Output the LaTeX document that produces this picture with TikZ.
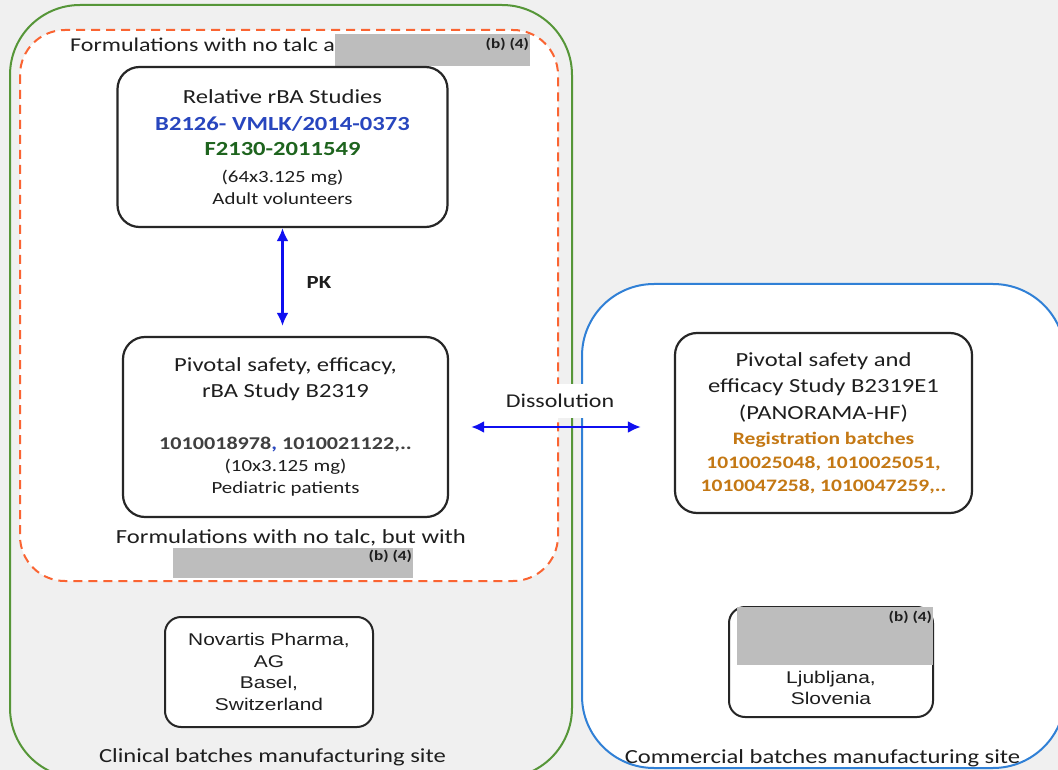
\documentclass[tikz,border=0pt]{standalone}
\usepackage{fontspec}
\setmainfont[FakeStretch=1.23]{Carlito}
\newfontfamily\arialfont[FakeStretch=1.23]{Liberation Sans}
\usetikzlibrary{arrows.meta}
\definecolor{bggray}{RGB}{240,240,240}
\definecolor{sitegreen}{RGB}{86,150,56}
\definecolor{siteblue}{RGB}{48,128,214}
\definecolor{dashorange}{RGB}{250,100,50}
\definecolor{redgray}{RGB}{189,189,189}
\definecolor{tdark}{RGB}{30,30,30}
\definecolor{tblue}{RGB}{40,70,190}
\definecolor{tgreen}{RGB}{30,100,30}
\definecolor{tgray}{RGB}{64,64,64}
\definecolor{torange}{RGB}{196,120,20}
\definecolor{arrblue}{RGB}{15,15,240}
\tikzset{
  studybox/.style={draw=black!85, line width=2.2pt, rounded corners=22pt, fill=white,
    align=center, inner sep=0pt, text=tdark},
  sitebox/.style={draw=black!85, line width=2pt, rounded corners=16pt, fill=white,
    align=center, inner sep=0pt, text=tdark},
  redact/.style={fill=redgray, inner sep=0pt},
  bfour/.style={font=\fontsize{14}{16}\selectfont\bfseries, text=tdark, inner sep=0pt},
  plain/.style={text=tdark, inner sep=0pt},
  arr/.style={draw=arrblue, line width=2.8pt, {Latex[length=13pt,width=12pt]}-{Latex[length=13pt,width=12pt]}},
}
\begin{document}
\begin{tikzpicture}[x=1pt,y=-1pt]
\useasboundingbox (0,0) rectangle (1058,770);
\fill[bggray] (0,0) rectangle (1058,770);
\begin{scope}
\clip (0,0) rectangle (1058,770);
\draw[sitegreen, line width=2pt, rounded corners=70pt] (10,5) rectangle (572,778);
\draw[siteblue, fill=white, line width=2pt, rounded corners=72pt] (582,284) rectangle (1065,768);
\end{scope}
\draw[dashorange, fill=white, line width=2pt, dash pattern=on 9pt off 6pt, rounded corners=45pt] (20,30) rectangle (558,581);

% top formulation label
\node[plain, anchor=base west, font=\fontsize{19.5}{22}\selectfont] (formtop) at (70,52) {Formulations with no talc a};
\node[redact, minimum width=195pt, minimum height=32pt] (r1) at (432.5,50) {};
\node[bfour, anchor=north east] (r1t) at ([xshift=-1pt,yshift=-4pt]r1.north east) {(b) (4)};

% study boxes
\node[studybox, minimum width=330pt, minimum height=160pt, font=\fontsize{20}{26.5}\selectfont] (b1) at (282.5,147)
 {Relative rBA Studies\\[0.5pt]
  {\bfseries\color{tblue}B2126- VMLK/2014-0373}\\[-1.5pt]
  {\bfseries\color{tgreen}F2130-2011549}\\[1pt]
  {\fontsize{17}{20}\selectfont (64x3.125 mg)}\\[-4.5pt]
  {\fontsize{17}{20}\selectfont Adult volunteers}};

\node[studybox, minimum width=325pt, minimum height=180pt, font=\fontsize{20}{26}\selectfont] (b2) at (285.5,427)
 {Pivotal safety, efficacy,\\
  rBA Study B2319\\[26pt]
  {\fontsize{18}{20}\selectfont\bfseries\color{tgray}1010018978{\color{tblue},} 1010021122,..}\\[-4pt]
  {\fontsize{17}{20}\selectfont (10x3.125 mg)}\\[-4pt]
  {\fontsize{17}{20}\selectfont Pediatric patients}};

\node[studybox, minimum width=297pt, minimum height=180pt, font=\fontsize{20}{26.5}\selectfont] (b3) at (823.5,423)
 {Pivotal safety and\\
  efficacy Study B2319E1\\
  (PANORAMA-HF)\\[-1pt]
  {\fontsize{17.5}{20}\selectfont\bfseries\color{torange}Registration batches}\\[-3pt]
  {\fontsize{17.5}{20}\selectfont\bfseries\color{torange}1010025048, 1010025051,}\\[-3pt]
  {\fontsize{17.5}{20}\selectfont\bfseries\color{torange}1010047258, 1010047259,..}};

% bottom formulation label
\node[plain, anchor=base, font=\fontsize{20}{22}\selectfont] (formbot) at (291,543) {Formulations with no talc, but with};
\node[redact, minimum width=240pt, minimum height=30pt] (r2) at (293,563) {};
\node[bfour, anchor=north east] (r2t) at ([xshift=-1pt,yshift=-2pt]r2.north east) {(b) (4)};

% arrows
\draw[arr, shorten >=10pt] (b1.south) -- (b1.south |- b2.north);
\node[plain, font=\fontsize{18.5}{20}\selectfont\bfseries] (pk) at (319,283) {PK};
\node[fill=white, inner xsep=5pt, inner ysep=0pt, minimum height=34pt, text=tdark, font=\fontsize{19.5}{22}\selectfont] (diss) at (560,401) {Dissolution};
\draw[arr, shorten <=22pt, shorten >=33pt] (b2.east) -- (b2.east -| b3.west);

% site boxes
\node[sitebox, minimum width=208pt, minimum height=110pt, font=\arialfont\fontsize{17}{21.7}\selectfont] (nov) at (269,672)
 {Novartis Pharma,\\AG\\Basel,\\Switzerland};
\node[sitebox, minimum width=204pt, minimum height=110pt] (lj) at (831,662) {};
\node[plain, align=center, font=\arialfont\fontsize{17}{21}\selectfont] (ljtext) at (831,688) {Ljubljana,\\Slovenia};
\node[redact, minimum width=196pt, minimum height=58pt] (r3) at (835,636) {};
\node[bfour, anchor=north east] (r3t) at ([xshift=-1pt,yshift=-4pt]r3.north east) {(b) (4)};

% site labels
\node[plain, anchor=base, font=\fontsize{20}{22}\selectfont] (clin) at (272.5,762) {Clinical batches manufacturing site};
\node[plain, anchor=base, font=\fontsize{20}{22}\selectfont] (comm) at (822.5,763) {Commercial batches manufacturing site};
\end{tikzpicture}
\end{document}
